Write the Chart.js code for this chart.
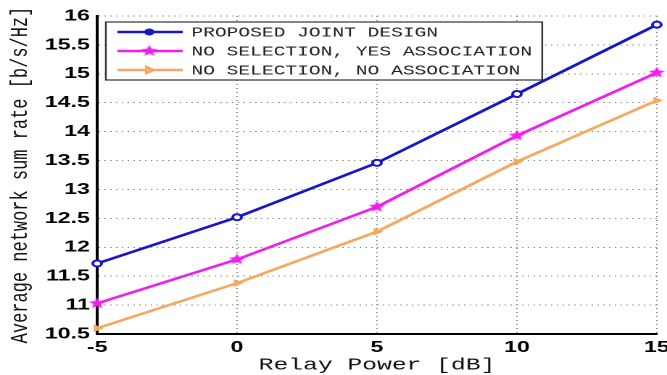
<!DOCTYPE html>
<html>
<head>
<meta charset="utf-8">
<script src="https://cdn.jsdelivr.net/npm/chart.js"></script>
<style>
  html, body { margin: 0; padding: 0; background: #fff; overflow: hidden; }
  /* the original figure is stretched sideways, so draw narrow and stretch */
  #wrap { width: 460px; height: 375px; transform: scaleX(1.45); transform-origin: 0 0; }
</style>
</head>
<body>
<div id="wrap"><canvas id="chart" width="460" height="375"></canvas></div>
<script>
const relayPower = [-5, 0, 5, 10, 15];
const jointDesign = [11.72, 12.52, 13.46, 14.65, 15.85];
const yesAssociation = [11.03, 11.79, 12.70, 13.93, 15.02];
const noAssociation = [10.60, 11.38, 12.27, 13.48, 14.54];
const seriesNames = ['PROPOSED JOINT DESIGN', 'NO SELECTION, YES ASSOCIATION', 'NO SELECTION, NO ASSOCIATION'];

const blue = '#1616c8';
const magenta = '#ee1eee';
const orange = '#f4a860';

// filled five point star for the middle curve
function makeStar(color, r) {
  const c = document.createElement('canvas');
  c.width = c.height = Math.ceil(r * 2) + 2;
  const g = c.getContext('2d');
  const cx = c.width / 2, cy = c.height / 2;
  g.beginPath();
  for (let i = 0; i < 10; i++) {
    const rad = i % 2 === 0 ? r : r * 0.45;
    const a = -Math.PI / 2 + i * Math.PI / 5;
    g.lineTo(cx + rad * Math.cos(a), cy + rad * Math.sin(a));
  }
  g.closePath();
  g.fillStyle = color;
  g.fill();
  return c;
}
const star = makeStar(magenta, 6);

const toPoints = ys => relayPower.map((x, i) => ({ x: x, y: ys[i] }));

const tickFont = { family: '"Liberation Sans", Arial, sans-serif', size: 16, weight: 'bold' };
const titleFont = { family: '"Liberation Mono", monospace', size: 17 };

const insideLegend = {
  id: 'insideLegend',
  afterDraw(chart) {
    const ctx = chart.ctx;
    const area = chart.chartArea;
    const x0 = area.left + 6, y0 = area.top + 6;
    const rowH = 19;
    ctx.save();
    ctx.font = '13.5px "Liberation Mono", monospace';
    let tw = 0;
    seriesNames.forEach(n => { tw = Math.max(tw, ctx.measureText(n).width); });
    const w = 59 + tw + 7, h = rowH * 3 + 1;
    ctx.fillStyle = '#fff';
    ctx.fillRect(x0, y0, w, h);
    ctx.strokeStyle = '#333';
    ctx.lineWidth = 1.2;
    ctx.strokeRect(x0, y0, w, h);
    chart.data.datasets.forEach((ds, i) => {
      const y = y0 + 10 + i * rowH;
      const mx = x0 + 30;
      ctx.strokeStyle = ds.borderColor;
      ctx.lineWidth = 2.5;
      ctx.beginPath();
      ctx.moveTo(x0 + 8, y);
      ctx.lineTo(x0 + 53, y);
      ctx.stroke();
      if (i === 0) {
        ctx.fillStyle = ds.borderColor;
        ctx.beginPath();
        ctx.arc(mx, y, 3.5, 0, Math.PI * 2);
        ctx.fill();
      } else if (i === 1) {
        ctx.drawImage(star, mx - star.width / 2, y - star.height / 2);
      } else {
        ctx.fillStyle = ds.borderColor;
        ctx.beginPath();
        ctx.moveTo(mx + 5, y);
        ctx.lineTo(mx - 3, y - 5);
        ctx.lineTo(mx - 3, y + 5);
        ctx.closePath();
        ctx.fill();
      }
      ctx.fillStyle = '#222';
      ctx.textBaseline = 'middle';
      ctx.fillText(seriesNames[i], x0 + 59, y + 1);
    });
    ctx.restore();
  }
};

new Chart(document.getElementById('chart'), {
  type: 'line',
  data: {
    datasets: [
      {
        label: seriesNames[0],
        data: toPoints(jointDesign),
        borderColor: blue,
        backgroundColor: '#fff',
        borderWidth: 2.5,
        pointStyle: 'circle',
        pointRadius: 3,
        pointBorderWidth: 2,
        pointBorderColor: blue,
        clip: false
      },
      {
        label: seriesNames[1],
        data: toPoints(yesAssociation),
        borderColor: magenta,
        backgroundColor: magenta,
        borderWidth: 2.5,
        pointStyle: star,
        clip: false
      },
      {
        label: seriesNames[2],
        data: toPoints(noAssociation),
        borderColor: orange,
        backgroundColor: orange,
        borderWidth: 2.5,
        pointStyle: 'triangle',
        pointRotation: 90,
        pointRadius: 4.5,
        pointBorderWidth: 0,
        clip: false
      }
    ]
  },
  options: {
    responsive: false,
    animation: false,
    devicePixelRatio: 2,
    layout: { padding: { top: 16, right: 7, left: 0, bottom: 0 } },
    plugins: {
      legend: { display: false },
      tooltip: { enabled: false }
    },
    scales: {
      x: {
        type: 'linear',
        min: -5,
        max: 15,
        ticks: { stepSize: 5, padding: 4, color: '#000', font: tickFont },
        grid: { color: '#8a8a8a', lineWidth: 1, drawTicks: false },
        border: { display: true, color: '#000', width: 2, dash: [1, 3] },
        title: {
          display: true,
          text: 'Relay Power [dB]',
          color: '#111',
          padding: { top: 0, bottom: 0 },
          font: titleFont
        },
        afterFit(scale) {
          scale.height = 41;
          scale.paddingLeft = 0;
          scale.paddingRight = 0;
        }
      },
      y: {
        min: 10.5,
        max: 16,
        ticks: {
          stepSize: 0.5,
          padding: 5,
          color: '#000',
          font: tickFont,
          callback: v => String(Math.round(v * 10) / 10)
        },
        grid: { color: '#8a8a8a', lineWidth: 1, drawTicks: false },
        border: { display: true, color: '#000', width: 2, dash: [1, 3] },
        title: {
          display: true,
          text: 'Average network sum rate [b/s/Hz]',
          color: '#111',
          padding: { top: 4, bottom: 0 },
          font: titleFont
        },
        afterFit(scale) {
          scale.width = 67;
          scale.paddingTop = 0;
          scale.paddingBottom = 0;
        }
      }
    }
  },
  plugins: [insideLegend]
});
</script>
</body>
</html>
